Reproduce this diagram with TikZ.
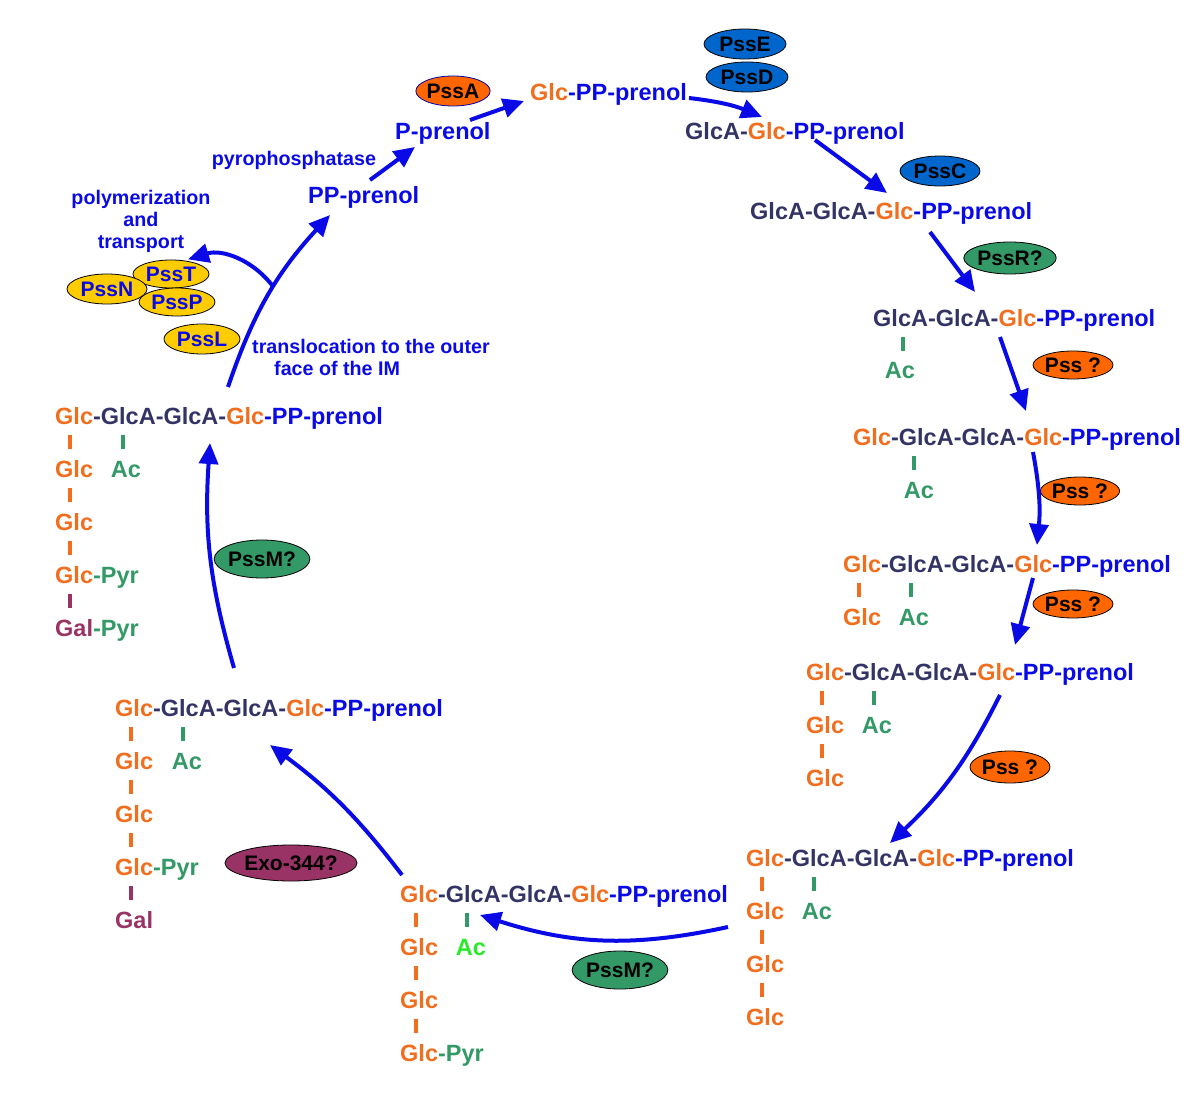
\documentclass[tikz,border=0pt]{standalone}
\usepackage{fontspec}
\setmainfont{Liberation Sans}
\usetikzlibrary{arrows.meta,shapes.geometric}
\definecolor{glc}{RGB}{240,110,30}
\definecolor{glca}{RGB}{51,51,102}
\definecolor{pblue}{RGB}{10,10,230}
\definecolor{acg}{RGB}{51,153,102}
\definecolor{acbright}{RGB}{40,235,40}
\definecolor{galp}{RGB}{153,51,102}
\definecolor{ovorange}{RGB}{255,102,0}
\definecolor{ovblue}{RGB}{0,102,204}
\definecolor{ovgreen}{RGB}{51,153,102}
\definecolor{ovpurple}{RGB}{153,51,102}
\definecolor{ovyellow}{RGB}{255,204,0}
\newcommand{\Gc}{\textcolor{glc}{Glc}}
\newcommand{\Ga}[1]{\textcolor{glca}{#1}}
\newcommand{\Pn}{\textcolor{pblue}{-PP-prenol}}
\newcommand{\fullchain}{\Gc\Ga{-GlcA-GlcA-}\Gc\Pn}
\tikzset{
  mol/.style={anchor=base west,inner sep=0pt,font=\fontsize{23.5}{28}\selectfont\bfseries},
  sub/.style={mol,text=#1},
  acl/.style={anchor=base,inner sep=0pt,text=#1,font=\fontsize{23.5}{28}\selectfont\bfseries},
  bar/.style={fill=#1,inner sep=0pt,minimum width=3.8pt,minimum height=13.5pt},
  note/.style={inner sep=0pt,text=pblue,font=\fontsize{19.7}{22}\selectfont\bfseries},
  enz/.style={ellipse,draw=black,line width=0.8pt,fill=#1,inner sep=0pt,
    font=\fontsize{21}{24}\selectfont\bfseries,minimum width=80pt,minimum height=30pt},
  rxn/.style={draw=pblue,line width=4pt,-{Triangle[length=21pt,width=19pt]}},
}
\begin{document}
\begin{tikzpicture}[x=1pt,y=-1pt]
\useasboundingbox (0,0) rectangle (1200,1099);
% enzymes
\node[enz=ovorange,draw=blue!70!black,minimum width=72pt] (pssA) at (453,91) {PssA};
\node[enz=ovblue,minimum width=82pt] (pssE) at (745,44) {PssE};
\node[enz=ovblue,minimum width=82pt] (pssD) at (747,77) {PssD};
\node[enz=ovblue] (pssC) at (940,171) {PssC};
\node[enz=ovgreen,minimum width=86pt,minimum height=32pt] (pssR) at (1010,258) {PssR?};
\node[enz=ovorange,minimum height=28pt] (pss1) at (1073,365) {Pss ?};
\node[enz=ovorange,minimum width=78pt,minimum height=28pt] (pss2) at (1080,491) {Pss ?};
\node[enz=ovorange,minimum height=28pt] (pss3) at (1073,604) {Pss ?};
\node[enz=ovorange,minimum height=32pt] (pss4) at (1010,767) {Pss ?};
\node[enz=ovgreen,minimum width=94pt,minimum height=38pt] (pssMb) at (620,970) {PssM?};
\node[enz=ovpurple,minimum width=114pt,minimum height=36pt] (exo) at (291,863) {Exo-344?};
\node[enz=ovgreen,minimum width=92pt,minimum height=38pt] (pssMl) at (262,559) {PssM?};
\node[enz=ovyellow,text=pblue,minimum width=76pt,minimum height=28pt] (pssT) at (171,274) {PssT};
\node[enz=ovyellow,text=pblue,minimum width=76pt,minimum height=28pt] (pssP) at (177,302) {PssP};
\node[enz=ovyellow,text=pblue] (pssN) at (107,289) {PssN};
\node[enz=ovyellow,text=pblue,minimum width=76pt] (pssL) at (202,339) {PssL};
% notes
\node[note,anchor=base] (pyro) at (294,166) {pyrophosphatase};
\node[note,align=center,anchor=north] (poly) at (141,190) {polymerization\\and\\transport};
\node[note,align=left,anchor=north west] (trans) at (252,339)
  {translocation to the outer\\\hspace*{22pt}face of the IM};
% lipid carrier and chains
\node[mol] (gpp) at (530,100.5) {\Gc\Pn};
\node[mol,text=pblue] (pprn) at (395,139.5) {P-prenol};
\node[mol,text=pblue] (ppprn) at (308,203.5) {PP-prenol};
\node[mol] (sA) at (685,139.5) {\Ga{GlcA-}\Gc\Pn};
\node[mol] (sB) at (750,219.5) {\Ga{GlcA-GlcA-}\Gc\Pn};
\node[mol] (sC) at (873,326.5) {\Ga{GlcA-GlcA-}\Gc\Pn};
\node[bar=acg] (sCg) at (903,344) {};
\node[acl=acg] (sCac) at (900,378.5) {Ac};
\node[mol] (sD) at (853,445.5) {\fullchain};
\node[bar=acg] (sDg) at (914,463) {};
\node[acl=acg] (sDac) at (919,498.5) {Ac};
\node[mol] (sE) at (843,572.5) {\fullchain};
\node[bar=glc] (sEo1) at (859,590) {};
\node[bar=acg] (sEg) at (911,590) {};
\node[sub=glc] (sEs1) at (843,625.5) {Glc};
\node[acl=acg] (sEac) at (914,625.5) {Ac};
\node[mol] (sF) at (806,680.5) {\fullchain};
\node[bar=glc] (sFo1) at (822,698) {};
\node[bar=acg] (sFg) at (874,698) {};
\node[sub=glc] (sFs1) at (806,733.5) {Glc};
\node[acl=acg] (sFac) at (877,733.5) {Ac};
\node[bar=glc] (sFo2) at (822,751) {};
\node[sub=glc] (sFs2) at (806,786.5) {Glc};
\node[mol] (sG) at (746,866.5) {\fullchain};
\node[bar=glc] (sGo1) at (762,884) {};
\node[bar=acg] (sGg) at (814,884) {};
\node[sub=glc] (sGs1) at (746,919.5) {Glc};
\node[acl=acg] (sGac) at (817,919.5) {Ac};
\node[bar=glc] (sGo2) at (762,937) {};
\node[sub=glc] (sGs2) at (746,972.5) {Glc};
\node[bar=glc] (sGo3) at (762,990) {};
\node[sub=glc] (sGs3) at (746,1025.5) {Glc};
\node[mol] (sH) at (400,902.5) {\fullchain};
\node[bar=glc] (sHo1) at (416,920) {};
\node[bar=acg] (sHg) at (467,920) {};
\node[sub=glc] (sHs1) at (400,955.5) {Glc};
\node[acl=acbright] (sHac) at (471,955.5) {Ac};
\node[bar=glc] (sHo2) at (416,973) {};
\node[sub=glc] (sHs2) at (400,1008.5) {Glc};
\node[bar=glc] (sHo3) at (416,1026) {};
\node[mol] (sHs3) at (400,1061.5) {\Gc\textcolor{acg}{-Pyr}};
\node[mol] (sI) at (115,716.5) {\fullchain};
\node[bar=glc] (sIo1) at (131,734) {};
\node[bar=acg] (sIg) at (183,734) {};
\node[sub=glc] (sIs1) at (115,769.5) {Glc};
\node[acl=acg] (sIac) at (187,769.5) {Ac};
\node[bar=glc] (sIo2) at (131,787) {};
\node[sub=glc] (sIs2) at (115,822.5) {Glc};
\node[bar=glc] (sIo3) at (131,840) {};
\node[mol] (sIs3) at (115,875.5) {\Gc\textcolor{acg}{-Pyr}};
\node[bar=galp] (sIo4) at (131,893) {};
\node[sub=galp] (sIs4) at (115,928.5) {Gal};
\node[mol] (sJ) at (55,424.5) {\fullchain};
\node[bar=glc] (sJo1) at (70,442) {};
\node[bar=acg] (sJg) at (123,442) {};
\node[sub=glc] (sJs1) at (55,477.5) {Glc};
\node[acl=acg] (sJac) at (126,477.5) {Ac};
\node[bar=glc] (sJo2) at (70,495) {};
\node[sub=glc] (sJs2) at (55,530.5) {Glc};
\node[bar=glc] (sJo3) at (70,548) {};
\node[mol] (sJs3) at (55,583.5) {\Gc\textcolor{acg}{-Pyr}};
\node[bar=galp] (sJo4) at (70,601) {};
\node[mol] (sJs4) at (55,636.5) {\textcolor{galp}{Gal}\textcolor{acg}{-Pyr}};
% reactions
\draw[rxn] ([shift={(75,-19.5)}]pprn.base west) -- ([shift={(-6,0.5)}]gpp.base west);
\draw[rxn] ([shift={(159,-2.5)}]gpp.base west) to[bend left=8] ([shift={(77,-22.5)}]sA.base west);
\draw[rxn] ([shift={(130,0.5)}]sA.base west) -- ([shift={(137,-26.5)}]sB.base west);
\draw[rxn] ([shift={(180,12.5)}]sB.base west) -- ([shift={(102,-34.5)}]sC.base west);
\draw[rxn] ([shift={(127,10.5)}]sC.base west) -- ([shift={(173,-34.5)}]sD.base west);
\draw[rxn] ([shift={(180,6.5)}]sD.base west) to[bend left=8] ([shift={(194,-27.5)}]sE.base west);
\draw[rxn] ([shift={(190,5.5)}]sE.base west) -- ([shift={(209,-35.5)}]sF.base west);
\draw[rxn] ([shift={(194,14.5)}]sF.base west) to[bend left=10] ([shift={(144,-23.5)}]sG.base west);
\draw[rxn] ([shift={(-18,60.5)}]sG.base west) to[bend left=15] ([shift={(80,12.5)}]sH.base west);
\draw[rxn] ([shift={(2,-27.5)}]sH.base west) to[bend right=8] ([shift={(155,28.5)}]sI.base west);
\draw[rxn] ([shift={(119,-48.5)}]sI.base west) to[bend left=10] ([shift={(155,18.5)}]sJ.base west);
\draw[rxn] ([shift={(173,-37.5)}]sJ.base west) to[bend left=12] coordinate[pos=0.55] (jn)
  ([shift={(22,11.5)}]ppprn.base west);
\draw[rxn] (jn) to[bend right=35] ([shift={(47,38)}]poly.center);
\draw[rxn] ([shift={(62,-23.5)}]ppprn.base west) -- ([shift={(20,7.5)}]pprn.base west);
\end{tikzpicture}
\end{document}
